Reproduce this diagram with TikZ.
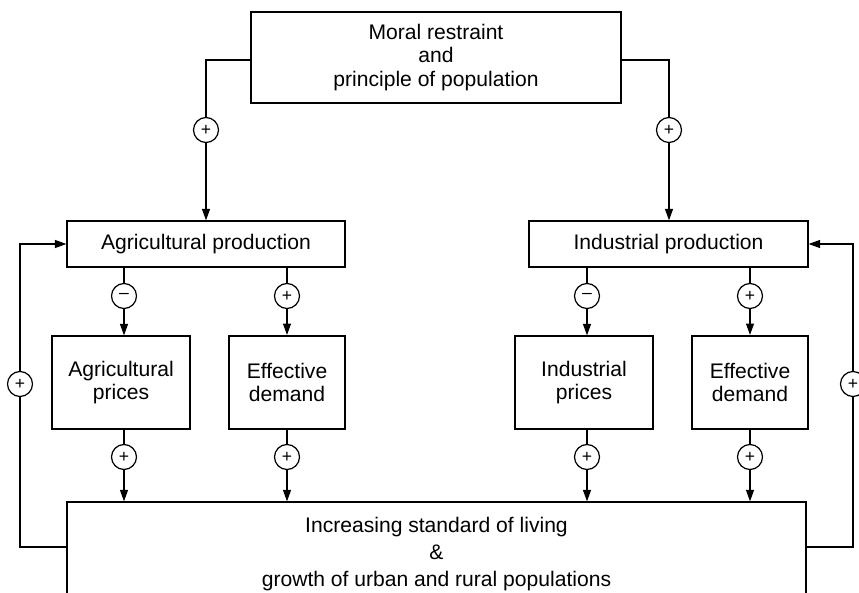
\documentclass[tikz,border=0pt]{standalone}
\usepackage{fontspec}
\setmainfont{Liberation Sans}
\usetikzlibrary{arrows.meta}
\tikzset{
  box/.style={draw,align=center,inner sep=0pt,font=\fontsize{12}{13.2}\selectfont},
  heavy/.style={box,line width=1.2pt},
  sign/.style={circle,draw,minimum size=0.5cm,inner sep=0pt,font=\fontsize{10}{10}\selectfont},
}
\begin{document}
\begin{tikzpicture}[x=0.02cm,y=-0.02cm,line width=0.7pt,>={Triangle[length=6.5pt,width=4.5pt]}]
\useasboundingbox (0,0) rectangle (859,592);
\node[box,minimum width=7.4cm,minimum height=1.82cm] (moral) at (436,57.5) {Moral restraint\\and\\principle of population};
\node[box,minimum width=5.56cm,minimum height=0.92cm] (agprod)  at (206,244) {Agricultural production};
\node[box,minimum width=5.58cm,minimum height=0.92cm] (indprod) at (668.5,244) {Industrial production};
\node[box,minimum width=2.76cm,minimum height=1.86cm] (agprice)  at (121,382.5) {Agricultural\\prices};
\node[heavy,minimum width=2.32cm,minimum height=1.86cm] (agdem)  at (287,382.5) {Effective\\demand};
\node[box,minimum width=2.76cm,minimum height=1.86cm] (indprice) at (584,382.5) {Industrial\\prices};
\node[heavy,minimum width=2.32cm,minimum height=1.86cm] (inddem)  at (750,382.5) {Effective\\demand};
\node[box,minimum width=14.78cm,minimum height=2.08cm] (living) at (436.5,554) {Increasing standard of living\\[2pt]\&\\[2pt]growth of urban and rural populations};
% signs
\node[sign] (s1)  at (206,130) {+};
\node[sign] (s2)  at (669,130) {+};
\node[sign] (s3)  at (124,296) {--};
\node[sign] (s4)  at (287,296) {+};
\node[sign] (s5)  at (587,296) {--};
\node[sign] (s6)  at (750,296) {+};
\node[sign] (s7)  at (124,457) {+};
\node[sign] (s8)  at (287,457) {+};
\node[sign] (s9)  at (587,457) {+};
\node[sign] (s10) at (750,457) {+};
\node[sign] (s11) at (20,384) {+};
\node[sign] (s12) at (853,384) {+};
% connectors
\draw ([yshift=-0.05cm]moral.west) -| (s1);
\draw[->] (s1) -- (agprod.north);
\draw ([yshift=-0.05cm]moral.east) -| (s2);
\draw[->] (s2) -- (s2 |- indprod.north);
\draw (s3 |- agprod.south) -- (s3);
\draw[->] (s3) -- (s3 |- agprice.north);
\draw (s4 |- agprod.south) -- (s4);
\draw[->] (s4) -- (agdem.north);
\draw (s5 |- indprod.south) -- (s5);
\draw[->] (s5) -- (s5 |- indprice.north);
\draw (s6 |- indprod.south) -- (s6);
\draw[->] (s6) -- (inddem.north);
\draw (s7 |- agprice.south) -- (s7);
\draw[->] (s7) -- (s7 |- living.north);
\draw (agdem.south) -- (s8);
\draw[->] (s8) -- (s8 |- living.north);
\draw (s9 |- indprice.south) -- (s9);
\draw[->] (s9) -- (s9 |- living.north);
\draw (inddem.south) -- (s10);
\draw[->] (s10) -- (s10 |- living.north);
\draw ([yshift=0.14cm]living.west) -| (s11);
\draw[->] (s11) |- (agprod.west);
\draw ([yshift=0.14cm]living.east) -| (s12);
\draw[->] (s12) |- (indprod.east);
\end{tikzpicture}
\end{document}
